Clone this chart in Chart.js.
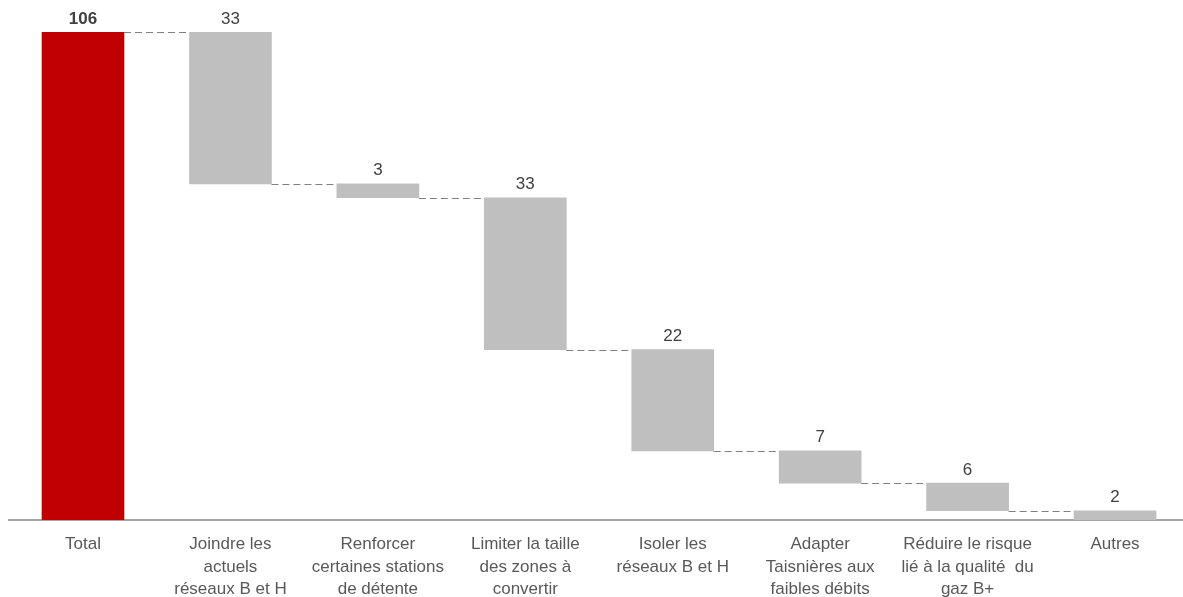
<!DOCTYPE html>
<html lang="fr">
<head>
<meta charset="utf-8">
<title>Décomposition des coûts</title>
<script src="https://cdn.jsdelivr.net/npm/chart.js@4/dist/chart.umd.min.js"></script>
<style>
  html, body { margin: 0; padding: 0; background: #ffffff; }
  #wrap { width: 1183px; height: 597px; }
</style>
</head>
<body>
<div id="wrap"><canvas id="chart" width="1183" height="597"></canvas></div>
<script>
// Category labels (multi-line where the axis wraps them)
const categories = [
  'Total',
  ['Joindre les', 'actuels', 'réseaux B et H'],
  ['Renforcer', 'certaines stations', 'de détente'],
  ['Limiter la taille', 'des zones à', 'convertir'],
  ['Isoler les', 'réseaux B et H'],
  ['Adapter', 'Taisnières aux', 'faibles débits'],
  ['Réduire le risque', 'lié à la qualité  du', 'gaz B+'],
  'Autres'
];

// Total and its breakdown into contributions
const totalValue = 106;
const contributions = [33, 3, 33, 22, 7, 6, 2];

// Floating ranges: the total from zero, then each contribution hanging
// below the remaining level left by the previous ones
const ranges = [[0, totalValue]];
const levels = [totalValue];
let remaining = totalValue;
contributions.forEach(v => {
  ranges.push([remaining - v, remaining]);
  remaining -= v;
  levels.push(remaining);
});
const labelValues = [totalValue, ...contributions];

const FONT = '"Liberation Sans", Arial, Helvetica, sans-serif';

// Value labels above each bar and dashed connectors between bars
const waterfallDecor = {
  id: 'waterfallDecor',
  afterDatasetsDraw(chart) {
    const ctx = chart.ctx;
    const meta = chart.getDatasetMeta(0);
    const yScale = chart.scales.y;
    ctx.save();
    // connectors
    ctx.strokeStyle = '#808080';
    ctx.lineWidth = 1;
    ctx.setLineDash([7, 4]);
    for (let i = 0; i < meta.data.length - 1; i++) {
      const a = meta.data[i], b = meta.data[i + 1];
      const y = Math.round(yScale.getPixelForValue(levels[i])) + 0.5;
      ctx.beginPath();
      ctx.moveTo(a.x + a.width / 2, y);
      ctx.lineTo(b.x - b.width / 2, y);
      ctx.stroke();
    }
    ctx.setLineDash([]);
    // value labels
    ctx.textAlign = 'center';
    ctx.textBaseline = 'alphabetic';
    meta.data.forEach((bar, i) => {
      const top = yScale.getPixelForValue(ranges[i][1]);
      ctx.font = (i === 0 ? 'bold ' : '') + '17px ' + FONT;
      ctx.fillStyle = '#404040';
      ctx.fillText(String(labelValues[i]), bar.x, top - 8.5);
    });
    ctx.restore();
  }
};

new Chart(document.getElementById('chart'), {
  type: 'bar',
  data: {
    datasets: [{
      data: ranges.map((r, i) => ({ x: i, y: r })),
      backgroundColor: ranges.map((_, i) => i === 0 ? '#C00000' : '#BFBFBF'),
      borderWidth: 0,
      barThickness: 82
    }]
  },
  options: {
    responsive: false,
    animation: false,
    layout: { padding: { top: 32, left: 9, right: 0, bottom: 0 } },
    plugins: {
      legend: { display: false },
      tooltip: { enabled: false }
    },
    scales: {
      x: {
        type: 'linear',
        offset: false,
        min: -0.502,
        max: 7.461,
        grid: { display: false },
        border: { display: true, color: '#A6A6A6', width: 2 },
        afterBuildTicks(scale) {
          scale.ticks = categories.map((_, i) => ({ value: i }));
        },
        afterFit(scale) { scale.height = 77; },
        ticks: {
          autoSkip: false,
          maxRotation: 0,
          padding: 5.5,
          color: '#595959',
          font: { family: FONT, size: 17, lineHeight: 1.32 },
          callback: (v) => categories[v]
        }
      },
      y: {
        display: false,
        min: 0,
        max: totalValue
      }
    }
  },
  plugins: [waterfallDecor]
});
</script>
</body>
</html>
